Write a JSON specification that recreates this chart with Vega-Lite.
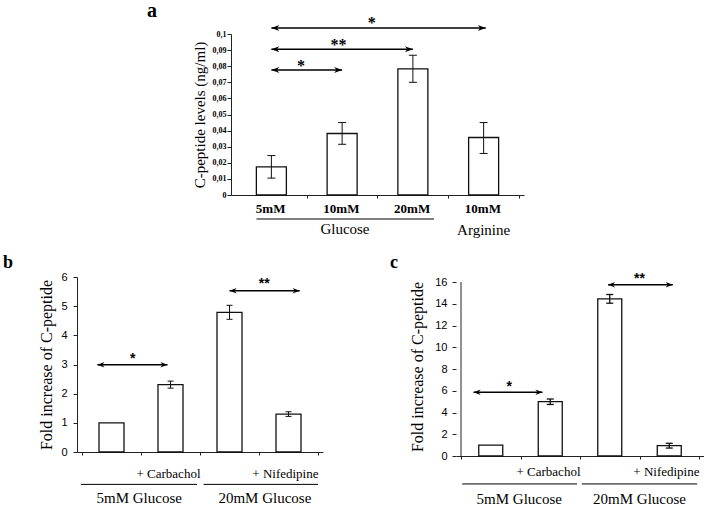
{
  "$schema": "https://vega.github.io/schema/vega-lite/v6.json",
  "padding": {"left": 3, "top": 1, "right": 0, "bottom": 0},
  "background": "white",
  "config": {
    "view": {"stroke": null},
    "axis": {"domainColor": "#222", "tickColor": "#222", "labelColor": "#000", "titleColor": "#000", "grid": false, "domainWidth": 1, "tickWidth": 1, "labelOverlap": false},
    "title": {"font": "Liberation Serif, serif", "fontWeight": "bold", "color": "#000", "anchor": "start", "frame": "group"}
  },
  "spacing": 15,
  "vconcat": [
    {
      "spacing": 0,
      "hconcat": [
        {"width": 70, "height": 1, "data": {"values": []}, "mark": {"type": "point", "opacity": 0}, "encoding": {}},
        {
          "width": 293, "height": 161,
          "title": {"text": "a", "fontSize": 20, "dx": -84, "offset": -6},
          "layer": [
            {
              "data": {"values": [
                {"pos": 1, "value": 0.0175},
                {"pos": 2, "value": 0.0382},
                {"pos": 3, "value": 0.0783},
                {"pos": 4, "value": 0.0357}
              ]},
              "mark": {"type": "bar", "orient": "vertical", "width": 30, "fill": "white", "stroke": "#111", "strokeWidth": 1.3},
              "encoding": {
                "x": {"field": "pos", "type": "quantitative", "scale": {"domain": [0.5, 4.5], "nice": false, "zero": false},
                  "axis": {"title": null, "values": [1.5, 2.5, 3.5, 4.5], "tickCount": 20, "labelExpr": "datum.value==1.5?'5mM':datum.value==2.5?'10mM':datum.value==3.5?'20mM':'10mM'", "labelOffset": -36.6, "tickSize": 3, "labelPadding": 4, "labelFont": "Liberation Serif, serif", "labelFontSize": 13, "labelFontWeight": "bold", "labelBound": false, "labelOverlap": false, "labelFlush": false}},
                "y": {"field": "value", "type": "quantitative", "scale": {"domain": [0, 0.1], "nice": false},
                  "axis": {"title": "C-peptide levels (ng/ml)", "values": [0, 0.01, 0.02, 0.03, 0.04, 0.05, 0.06, 0.07, 0.08, 0.09, 0.1], "tickCount": 20, "labelExpr": "replace(format(datum.value,'.2~f'),'.',',')", "labelFont": "Liberation Serif, serif", "labelFontSize": 8, "labelFontWeight": "bold", "tickSize": 4, "labelPadding": 1, "titleFont": "Liberation Serif, serif", "titleFontSize": 15, "titleFontWeight": "normal", "titlePadding": 5, "labelOverlap": false}}
              }
            },
            {
              "data": {"values": [
                {"pos": 1, "lo": 0.0105, "hi": 0.0245},
                {"pos": 2, "lo": 0.0315, "hi": 0.045},
                {"pos": 3, "lo": 0.070, "hi": 0.0868},
                {"pos": 4, "lo": 0.0258, "hi": 0.045}
              ]},
              "layer": [
                {"mark": {"type": "rule", "color": "#111", "strokeWidth": 1}, "encoding": {"x": {"field": "pos", "type": "quantitative"}, "y": {"field": "lo", "type": "quantitative"}, "y2": {"field": "hi"}}},
                {"mark": {"type": "rule", "color": "#111", "strokeWidth": 1, "xOffset": -4, "x2Offset": 4}, "encoding": {"x": {"field": "pos", "type": "quantitative"}, "x2": {"field": "pos"}, "y": {"field": "hi", "type": "quantitative"}}},
                {"mark": {"type": "rule", "color": "#111", "strokeWidth": 1, "xOffset": -4, "x2Offset": 4}, "encoding": {"x": {"field": "pos", "type": "quantitative"}, "x2": {"field": "pos"}, "y": {"field": "lo", "type": "quantitative"}}}
              ]
            },
            {
              "data": {"values": [
                {"x1": 1, "x2": 2, "y": 0.0777, "star": "*", "sx": 1.42, "sy": 0.0800},
                {"x1": 1, "x2": 3, "y": 0.0906, "star": "**", "sx": 1.95, "sy": 0.0931},
                {"x1": 1, "x2": 4.03, "y": 0.1037, "star": "*", "sx": 2.42, "sy": 0.1068}
              ]},
              "layer": [
                {"mark": {"type": "rule", "color": "#000", "strokeWidth": 1.5}, "encoding": {"x": {"field": "x1", "type": "quantitative"}, "x2": {"field": "x2"}, "y": {"field": "y", "type": "quantitative"}}},
                {"mark": {"type": "point", "shape": "M0,0L1.6,-0.6L1.1,0L1.6,0.6Z", "filled": true, "opacity": 1, "size": 100, "color": "#000"}, "encoding": {"x": {"field": "x1", "type": "quantitative"}, "y": {"field": "y", "type": "quantitative"}}},
                {"mark": {"type": "point", "shape": "M0,0L-1.6,-0.6L-1.1,0L-1.6,0.6Z", "filled": true, "opacity": 1, "size": 100, "color": "#000"}, "encoding": {"x": {"field": "x2", "type": "quantitative"}, "y": {"field": "y", "type": "quantitative"}}},
                {"mark": {"type": "text", "font": "Liberation Serif, serif", "fontSize": 16, "fontWeight": "bold", "baseline": "middle", "align": "center"}, "encoding": {"x": {"field": "sx", "type": "quantitative"}, "y": {"field": "sy", "type": "quantitative"}, "text": {"field": "star"}}}
              ]
            },
            {
              "data": {"values": [{"x1": 0.79, "x2": 3.3, "y": -0.0149}]},
              "mark": {"type": "rule", "color": "#000", "strokeWidth": 1},
              "encoding": {"x": {"field": "x1", "type": "quantitative"}, "x2": {"field": "x2"}, "y": {"field": "y", "type": "quantitative"}}
            },
            {
              "data": {"values": [{"x": 2.04, "y": -0.0213, "t": "Glucose"}, {"x": 4, "y": -0.0218, "t": "Arginine"}]},
              "mark": {"type": "text", "font": "Liberation Serif, serif", "fontSize": 15, "baseline": "middle", "align": "center", "color": "#000"},
              "encoding": {"x": {"field": "x", "type": "quantitative"}, "y": {"field": "y", "type": "quantitative"}, "text": {"field": "t"}}
            }
          ]
        }
      ]
    },
    {
      "spacing": 67,
      "hconcat": [
        {
          "width": 246, "height": 175,
          "title": {"text": "b", "fontSize": 18, "dx": -74, "offset": -1},
          "layer": [
            {
              "data": {"values": [
                {"pos": 1, "value": 1.0},
                {"pos": 2, "value": 2.31},
                {"pos": 3, "value": 4.79},
                {"pos": 4, "value": 1.3}
              ]},
              "mark": {"type": "bar", "orient": "vertical", "width": 25, "fill": "white", "stroke": "#111", "strokeWidth": 1.3},
              "encoding": {
                "x": {"field": "pos", "type": "quantitative", "scale": {"domain": [0.5, 4.5], "nice": false, "zero": false},
                  "axis": {"title": null, "values": [0.5, 1.5, 2.5, 3.5, 4.5], "tickCount": 20, "labelExpr": "datum.value==2.5?'+ Carbachol':datum.value==4.5?'+ Nifedipine':''", "labelAlign": "right", "tickSize": 3, "labelPadding": 12, "labelFont": "Liberation Serif, serif", "labelFontSize": 13, "labelBound": false, "labelOverlap": false, "labelFlush": false}},
                "y": {"field": "value", "type": "quantitative", "scale": {"domain": [0, 6], "nice": false},
                  "axis": {"title": "Fold increase of C-peptide", "values": [0, 1, 2, 3, 4, 5, 6], "tickCount": 20, "format": "d", "labelFont": "Liberation Sans", "labelFontSize": 11, "tickSize": 4, "labelPadding": 6, "titleFont": "Liberation Serif, serif", "titleFontSize": 16, "titleFontWeight": "normal", "titlePadding": 6, "labelOverlap": false}}
              }
            },
            {
              "data": {"values": [
                {"pos": 2, "lo": 2.19, "hi": 2.43},
                {"pos": 3, "lo": 4.55, "hi": 5.03},
                {"pos": 4, "lo": 1.22, "hi": 1.38}
              ]},
              "layer": [
                {"mark": {"type": "rule", "color": "#111", "strokeWidth": 1}, "encoding": {"x": {"field": "pos", "type": "quantitative"}, "y": {"field": "lo", "type": "quantitative"}, "y2": {"field": "hi"}}},
                {"mark": {"type": "rule", "color": "#111", "strokeWidth": 1, "xOffset": -3, "x2Offset": 3}, "encoding": {"x": {"field": "pos", "type": "quantitative"}, "x2": {"field": "pos"}, "y": {"field": "hi", "type": "quantitative"}}},
                {"mark": {"type": "rule", "color": "#111", "strokeWidth": 1, "xOffset": -3, "x2Offset": 3}, "encoding": {"x": {"field": "pos", "type": "quantitative"}, "x2": {"field": "pos"}, "y": {"field": "lo", "type": "quantitative"}}}
              ]
            },
            {
              "data": {"values": [
                {"x1": 0.76, "x2": 1.95, "y": 2.99, "star": "*", "sx": 1.36, "sy": 3.2},
                {"x1": 3.0, "x2": 4.19, "y": 5.53, "star": "**", "sx": 3.59, "sy": 5.76}
              ]},
              "layer": [
                {"mark": {"type": "rule", "color": "#000", "strokeWidth": 1.5}, "encoding": {"x": {"field": "x1", "type": "quantitative"}, "x2": {"field": "x2"}, "y": {"field": "y", "type": "quantitative"}}},
                {"mark": {"type": "point", "shape": "M0,0L1.6,-0.6L1.1,0L1.6,0.6Z", "filled": true, "opacity": 1, "size": 80, "color": "#000"}, "encoding": {"x": {"field": "x1", "type": "quantitative"}, "y": {"field": "y", "type": "quantitative"}}},
                {"mark": {"type": "point", "shape": "M0,0L-1.6,-0.6L-1.1,0L-1.6,0.6Z", "filled": true, "opacity": 1, "size": 80, "color": "#000"}, "encoding": {"x": {"field": "x2", "type": "quantitative"}, "y": {"field": "y", "type": "quantitative"}}},
                {"mark": {"type": "text", "font": "Liberation Sans", "fontSize": 14, "fontWeight": "bold", "baseline": "middle", "align": "center"}, "encoding": {"x": {"field": "sx", "type": "quantitative"}, "y": {"field": "sy", "type": "quantitative"}, "text": {"field": "star"}}}
              ]
            },
            {
              "data": {"values": [{"x1": 0.48, "x2": 2.45, "y": -1.11}, {"x1": 2.56, "x2": 4.5, "y": -1.11}]},
              "mark": {"type": "rule", "color": "#000", "strokeWidth": 1},
              "encoding": {"x": {"field": "x1", "type": "quantitative"}, "x2": {"field": "x2"}, "y": {"field": "y", "type": "quantitative"}}
            },
            {
              "data": {"values": [{"x": 1.47, "y": -1.56, "t": "5mM Glucose"}, {"x": 3.6, "y": -1.56, "t": "20mM Glucose"}]},
              "mark": {"type": "text", "font": "Liberation Serif, serif", "fontSize": 15, "baseline": "middle", "align": "center", "color": "#000"},
              "encoding": {"x": {"field": "x", "type": "quantitative"}, "y": {"field": "y", "type": "quantitative"}, "text": {"field": "t"}}
            }
          ]
        },
        {
          "width": 248, "height": 179,
          "title": {"text": "c", "fontSize": 18, "dx": -66, "offset": 0},
          "layer": [
            {
              "data": {"values": [
                {"pos": 1, "value": 1.0},
                {"pos": 2, "value": 5.0},
                {"pos": 3, "value": 14.45},
                {"pos": 4, "value": 0.95}
              ]},
              "mark": {"type": "bar", "orient": "vertical", "width": 24, "fill": "white", "stroke": "#111", "strokeWidth": 1.3},
              "encoding": {
                "x": {"field": "pos", "type": "quantitative", "scale": {"domain": [0.5, 4.5], "nice": false, "zero": false},
                  "axis": {"title": null, "values": [0.5, 1.5, 2.5, 3.5, 4.5], "tickCount": 20, "labelExpr": "datum.value==2.5?'+ Carbachol':datum.value==4.5?'+ Nifedipine':''", "labelAlign": "right", "tickSize": 3, "labelPadding": 6, "labelFont": "Liberation Serif, serif", "labelFontSize": 13, "labelBound": false, "labelOverlap": false, "labelFlush": false}},
                "y": {"field": "value", "type": "quantitative", "scale": {"domain": [0, 16.46], "nice": false},
                  "axis": {"title": "Fold increase of C-peptide", "values": [0, 2, 4, 6, 8, 10, 12, 14, 16], "tickCount": 20, "format": "d", "domain": false, "labelFont": "Liberation Sans", "labelFontSize": 11, "tickSize": 4, "labelPadding": 5, "titleFont": "Liberation Serif, serif", "titleFontSize": 16, "titleFontWeight": "normal", "titlePadding": 9, "labelOverlap": false}}
              }
            },
            {
              "data": {"values": [{"x": 0.5, "y1": 0, "y2": 16}]},
              "mark": {"type": "rule", "color": "#222", "strokeWidth": 1},
              "encoding": {"x": {"field": "x", "type": "quantitative"}, "y": {"field": "y1", "type": "quantitative"}, "y2": {"field": "y2"}}
            },
            {
              "data": {"values": [
                {"pos": 2, "lo": 4.74, "hi": 5.24},
                {"pos": 3, "lo": 14.05, "hi": 14.85},
                {"pos": 4, "lo": 0.73, "hi": 1.17}
              ]},
              "layer": [
                {"mark": {"type": "rule", "color": "#111", "strokeWidth": 1.3}, "encoding": {"x": {"field": "pos", "type": "quantitative"}, "y": {"field": "lo", "type": "quantitative"}, "y2": {"field": "hi"}}},
                {"mark": {"type": "rule", "color": "#111", "strokeWidth": 1.3, "xOffset": -3.5, "x2Offset": 3.5}, "encoding": {"x": {"field": "pos", "type": "quantitative"}, "x2": {"field": "pos"}, "y": {"field": "hi", "type": "quantitative"}}},
                {"mark": {"type": "rule", "color": "#111", "strokeWidth": 1.3, "xOffset": -3.5, "x2Offset": 3.5}, "encoding": {"x": {"field": "pos", "type": "quantitative"}, "x2": {"field": "pos"}, "y": {"field": "lo", "type": "quantitative"}}}
              ]
            },
            {
              "data": {"values": [
                {"x1": 0.71, "x2": 1.87, "y": 5.86, "star": "*", "sx": 1.31, "sy": 6.35},
                {"x1": 2.97, "x2": 4.06, "y": 15.75, "star": "**", "sx": 3.5, "sy": 16.25}
              ]},
              "layer": [
                {"mark": {"type": "rule", "color": "#000", "strokeWidth": 1.5}, "encoding": {"x": {"field": "x1", "type": "quantitative"}, "x2": {"field": "x2"}, "y": {"field": "y", "type": "quantitative"}}},
                {"mark": {"type": "point", "shape": "M0,0L1.6,-0.6L1.1,0L1.6,0.6Z", "filled": true, "opacity": 1, "size": 80, "color": "#000"}, "encoding": {"x": {"field": "x1", "type": "quantitative"}, "y": {"field": "y", "type": "quantitative"}}},
                {"mark": {"type": "point", "shape": "M0,0L-1.6,-0.6L-1.1,0L-1.6,0.6Z", "filled": true, "opacity": 1, "size": 80, "color": "#000"}, "encoding": {"x": {"field": "x2", "type": "quantitative"}, "y": {"field": "y", "type": "quantitative"}}},
                {"mark": {"type": "text", "font": "Liberation Sans", "fontSize": 14, "fontWeight": "bold", "baseline": "middle", "align": "center"}, "encoding": {"x": {"field": "sx", "type": "quantitative"}, "y": {"field": "sy", "type": "quantitative"}, "text": {"field": "star"}}}
              ]
            },
            {
              "data": {"values": [{"x1": 0.52, "x2": 2.45, "y": -2.57}, {"x1": 2.53, "x2": 4.47, "y": -2.57}]},
              "mark": {"type": "rule", "color": "#000", "strokeWidth": 1},
              "encoding": {"x": {"field": "x1", "type": "quantitative"}, "x2": {"field": "x2"}, "y": {"field": "y", "type": "quantitative"}}
            },
            {
              "data": {"values": [{"x": 1.48, "y": -3.95, "t": "5mM Glucose"}, {"x": 3.5, "y": -3.95, "t": "20mM Glucose"}]},
              "mark": {"type": "text", "font": "Liberation Serif, serif", "fontSize": 15, "baseline": "middle", "align": "center", "color": "#000"},
              "encoding": {"x": {"field": "x", "type": "quantitative"}, "y": {"field": "y", "type": "quantitative"}, "text": {"field": "t"}}
            }
          ]
        }
      ]
    }
  ]
}
